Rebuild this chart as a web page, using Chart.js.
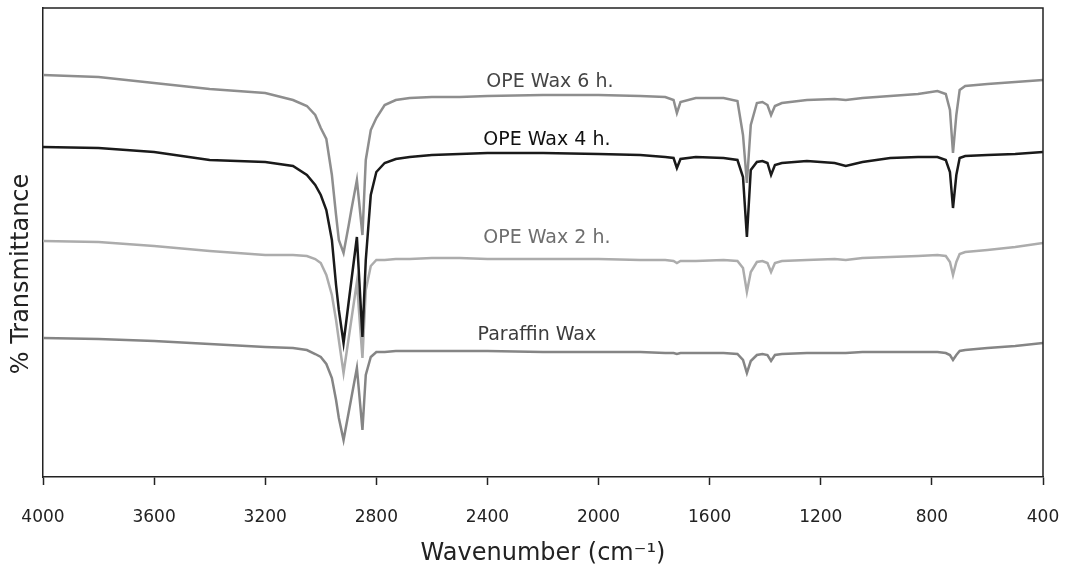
<!DOCTYPE html>
<html>
<head>
<meta charset="utf-8">
<script src="https://cdn.jsdelivr.net/npm/chart.js@4.4.1/dist/chart.umd.min.js"></script>
<style>
  html, body { margin: 0; padding: 0; background: #fff; }
  #wrap { width: 1068px; height: 576px; }
</style>
</head>
<body>
<div id="wrap"><canvas id="ftirChart" width="1068" height="576"></canvas></div>
<script>
// wavenumber (cm-1), same sampling for every spectrum
var wavenumbers = [4000, 3800, 3600, 3400, 3200, 3100, 3050, 3020, 3000, 2980,
  2960, 2945, 2935, 2918, 2900, 2890, 2870, 2858, 2850, 2838,
  2820, 2800, 2770, 2730, 2680, 2600, 2500, 2400, 2200, 2000,
  1850, 1760, 1730, 1718, 1705, 1650, 1550, 1500, 1480, 1466,
  1452, 1430, 1410, 1392, 1379, 1365, 1340, 1250, 1150, 1110,
  1050, 950, 850, 780, 750, 735, 724, 712, 700, 680,
  600, 500, 400];

// % transmittance (stacked, arbitrary offsets as in the figure)
var ope6h = [80.4, 80.0, 78.8, 77.6, 76.8, 75.4, 74.2, 72.4, 69.8, 67.6,
  60.4, 52.4, 47.4, 44.8, 50.2, 53.4, 59.4, 52.8, 48.4, 63.4,
  69.4, 71.8, 74.4, 75.4, 75.8, 76.0, 76.0, 76.2, 76.4, 76.4,
  76.2, 76.0, 75.4, 72.8, 75.0, 75.8, 75.8, 75.2, 68.4, 58.8,
  70.4, 74.8, 75.0, 74.4, 72.4, 74.2, 74.8, 75.4, 75.6, 75.4,
  75.8, 76.2, 76.6, 77.2, 76.6, 73.4, 64.8, 72.4, 77.4, 78.2,
  78.6, 79.0, 79.4];

var ope4h = [66.0, 65.8, 65.0, 63.4, 63.0, 62.2, 60.4, 58.4, 56.4, 53.4,
  47.4, 38.4, 33.4, 26.8, 34.8, 39.2, 48.0, 36.0, 28.0, 43.4,
  56.4, 61.0, 62.8, 63.6, 64.0, 64.4, 64.6, 64.8, 64.8, 64.6,
  64.4, 64.0, 63.8, 61.8, 63.6, 64.0, 63.8, 63.4, 60.0, 48.0,
  61.4, 63.0, 63.2, 62.8, 60.4, 62.4, 62.8, 63.2, 62.8, 62.2,
  63.0, 63.8, 64.0, 64.0, 63.4, 61.0, 53.8, 60.4, 63.8, 64.2,
  64.4, 64.6, 65.0];

var ope2h = [47.2, 47.0, 46.2, 45.2, 44.4, 44.4, 44.2, 43.6, 42.8, 40.4,
  36.4, 31.4, 27.4, 20.8, 27.6, 31.4, 39.0, 29.8, 23.8, 37.4,
  42.2, 43.4, 43.4, 43.6, 43.6, 43.8, 43.8, 43.6, 43.6, 43.6,
  43.4, 43.4, 43.2, 42.8, 43.2, 43.2, 43.4, 43.2, 41.8, 37.0,
  41.0, 43.0, 43.2, 42.8, 41.0, 42.8, 43.2, 43.4, 43.6, 43.4,
  43.8, 44.0, 44.2, 44.4, 44.2, 43.0, 40.4, 43.0, 44.6, 45.0,
  45.4, 46.0, 46.8];

var paraffin = [27.8, 27.6, 27.2, 26.6, 26.0, 25.8, 25.4, 24.6, 24.0, 22.6,
  19.8, 15.4, 11.8, 7.4, 12.8, 15.8, 21.8, 14.4, 9.4, 20.4,
  24.0, 25.0, 25.0, 25.2, 25.2, 25.2, 25.2, 25.2, 25.0, 25.0,
  25.0, 24.8, 24.8, 24.6, 24.8, 24.8, 24.8, 24.6, 23.4, 20.8,
  23.2, 24.4, 24.6, 24.4, 23.2, 24.4, 24.6, 24.8, 24.8, 24.8,
  25.0, 25.0, 25.0, 25.0, 24.8, 24.4, 23.4, 24.4, 25.2, 25.4,
  25.8, 26.2, 26.8];

var xTicks = [4000, 3600, 3200, 2800, 2400, 2000, 1600, 1200, 800, 400];

// in-plot series labels (data coordinates)
var seriesNames = ['OPE Wax 6 h.', 'OPE Wax 4 h.', 'OPE Wax 2 h.', 'Paraffin Wax'];
var labelWn = [2175, 2186, 2186, 2222];
var labelT = [79.0, 67.4, 47.8, 28.4];

var lineColors = ['#8e8e8e', '#1a1a1a', '#acacac', '#858585'];
var textColors = ['#454545', '#111111', '#6e6e6e', '#3c3c3c'];

function pts(values) {
    return wavenumbers.map(function(w, i) { return { x: w, y: values[i] }; });
}

var frameAndLabels = {
    id: 'frameAndLabels',
    afterDatasetsDraw: function(chart) {
        var ctx = chart.ctx;
        var xs = chart.scales.x, ys = chart.scales.y;
        var a = chart.chartArea;
        ctx.save();
        // top and right frame
        ctx.strokeStyle = '#222';
        ctx.lineWidth = 1.5;
        ctx.beginPath();
        ctx.moveTo(a.left, a.top);
        ctx.lineTo(a.right, a.top);
        ctx.lineTo(a.right, a.bottom);
        ctx.stroke();
        // series names
        ctx.font = '19px "DejaVu Sans"';
        ctx.textAlign = 'center';
        ctx.textBaseline = 'middle';
        seriesNames.forEach(function(name, i) {
            ctx.fillStyle = textColors[i];
            ctx.fillText(name, xs.getPixelForValue(labelWn[i]), ys.getPixelForValue(labelT[i]));
        });
        // y axis title
        ctx.translate(22, ys.getPixelForValue(40.6));
        ctx.rotate(-Math.PI / 2);
        ctx.font = '24px "DejaVu Sans"';
        ctx.fillStyle = '#222';
        ctx.fillText('% Transmittance', 0, 0);
        ctx.restore();
    }
};

var ctx = document.getElementById('ftirChart').getContext('2d');
var ftirChart = new Chart(ctx, {
    type: 'line',
    data: {
        datasets: [
            { label: seriesNames[0], data: pts(ope6h) },
            { label: seriesNames[1], data: pts(ope4h) },
            { label: seriesNames[2], data: pts(ope2h) },
            { label: seriesNames[3], data: pts(paraffin) }
        ].map(function(ds, i) {
            ds.borderColor = lineColors[i];
            ds.borderWidth = 2.5;
            ds.pointRadius = 0;
            ds.tension = 0;
            ds.fill = false;
            return ds;
        })
    },
    options: {
        responsive: false,
        animation: false,
        layout: { padding: { top: 8, right: 25, left: 0, bottom: 0 } },
        plugins: {
            legend: { display: false },
            tooltip: { enabled: false }
        },
        scales: {
            x: {
                type: 'linear',
                reverse: true,
                min: 400,
                max: 4000,
                afterBuildTicks: function(scale) {
                    scale.ticks = xTicks.map(function(v) { return { value: v }; });
                },
                afterFit: function(scale) {
                    scale.height = 99;
                    scale.paddingLeft = 0;
                    scale.paddingRight = 0;
                },
                border: { display: true, color: '#222', width: 1.5 },
                grid: { drawOnChartArea: false, drawTicks: true, tickLength: 8, color: '#222', tickWidth: 1.5 },
                ticks: {
                    color: '#222',
                    padding: 22,
                    maxRotation: 0,
                    autoSkip: false,
                    font: { family: 'DejaVu Sans', size: 17 },
                    callback: function(value) { return String(value); }
                },
                title: {
                    display: true,
                    text: 'Wavenumber (cm\u207B\u00B9)',
                    color: '#222',
                    padding: { top: 0, bottom: 8 },
                    font: { family: 'DejaVu Sans', size: 24 }
                }
            },
            y: {
                min: 0,
                max: 93.8,
                afterFit: function(scale) { scale.width = 43; },
                border: { display: true, color: '#222', width: 1.5 },
                grid: { drawOnChartArea: false, drawTicks: false },
                ticks: { display: false }
            }
        }
    },
    plugins: [frameAndLabels]
});
</script>
</body>
</html>
